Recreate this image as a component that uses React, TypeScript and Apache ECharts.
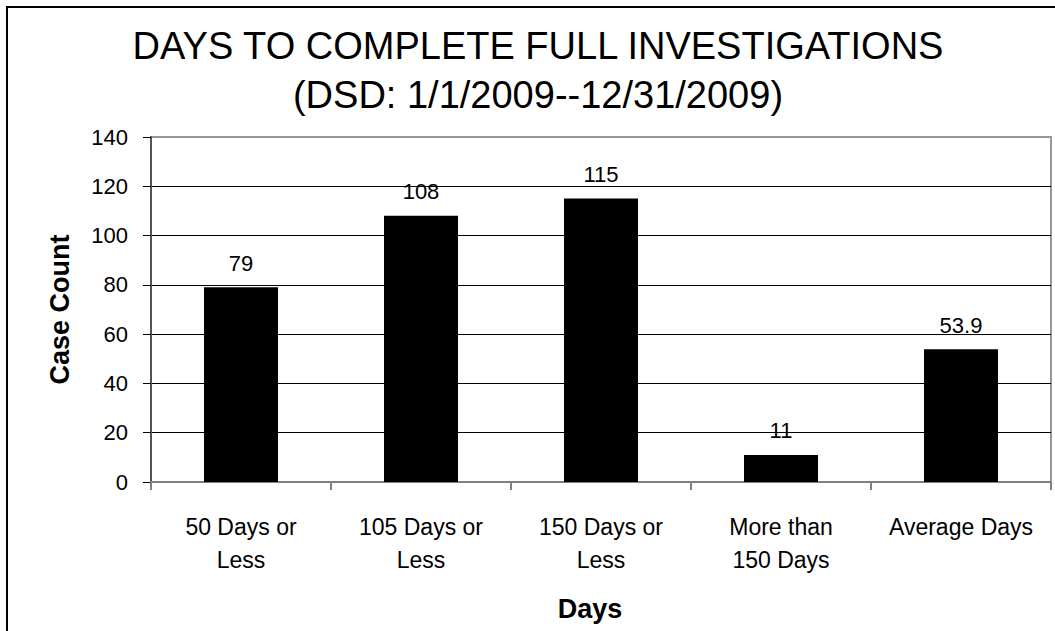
import React, { useEffect, useRef } from "react";
import * as echarts from "echarts";

const titleLines = ["DAYS TO COMPLETE FULL INVESTIGATIONS", "(DSD: 1/1/2009--12/31/2009)"];
const categories = ["50 Days or\nLess", "105 Days or\nLess", "150 Days or\nLess", "More than\n150 Days", "Average Days"];
const caseCounts = [79, 108, 115, 11, 53.9];
const yAxisName = "Case Count";
const xAxisName = "Days";

const FONT = "'Liberation Sans', Arial, sans-serif";

export default function App() {
  const ref = useRef<HTMLDivElement>(null);
  useEffect(() => {
    if (!ref.current) return;
    const chart = echarts.init(ref.current, null, { renderer: "svg" });
    chart.setOption({
      animation: false,
      backgroundColor: "#fff",
      textStyle: { fontFamily: FONT },
      grid: {
        left: 151,
        right: 4,
        top: 137,
        bottom: 149,
        show: true,
        borderColor: "#999",
        borderWidth: 2,
        containLabel: false,
      },
      graphic: [
        {
          type: "rect",
          shape: { x: 7, y: 7, width: 1100, height: 700 },
          style: { fill: "none", stroke: "#000", lineWidth: 2 },
          silent: true,
        },
        {
          type: "text",
          x: 538,
          y: 46,
          style: {
            text: titleLines[0],
            font: `38px ${FONT}`,
            fill: "#000",
            textAlign: "center",
            textVerticalAlign: "middle",
          },
        },
        {
          type: "text",
          x: 538,
          y: 95,
          style: {
            text: titleLines[1],
            font: `38px ${FONT}`,
            fill: "#000",
            textAlign: "center",
            textVerticalAlign: "middle",
          },
        },
      ],
      xAxis: {
        type: "category",
        data: categories,
        name: xAxisName,
        nameLocation: "middle",
        nameGap: 113,
        nameTextStyle: { fontSize: 27, fontWeight: "bold", color: "#000", fontFamily: FONT, padding: [0, 22, 0, 0] },
        axisLine: { show: true, lineStyle: { color: "#808080", width: 2 } },
        axisTick: { show: true, length: 8, lineStyle: { color: "#808080", width: 2 } },
        axisLabel: { fontSize: 23, color: "#000", lineHeight: 33, margin: 28, fontFamily: FONT, interval: 0 },
        splitLine: { show: false },
      },
      yAxis: {
        type: "value",
        min: 0,
        max: 140,
        interval: 20,
        name: yAxisName,
        nameLocation: "middle",
        nameGap: 78,
        nameRotate: 90,
        nameTextStyle: { fontSize: 27, fontWeight: "bold", color: "#000", fontFamily: FONT },
        axisLine: { show: true, lineStyle: { color: "#555", width: 2 } },
        axisTick: { show: true, length: 8, lineStyle: { color: "#000", width: 1 } },
        axisLabel: { fontSize: 22, color: "#000", margin: 23, fontFamily: FONT, padding: [8, 0, 0, 0] },
        splitLine: {
          show: true,
          lineStyle: { color: ["#000", "#000", "#000", "#000", "#000", "#000", "#000", "#999"], width: 1 },
        },
      },
      series: [
        {
          type: "bar",
          data: caseCounts,
          barWidth: 74,
          itemStyle: { color: "#000" },
          label: {
            show: true,
            position: "top",
            distance: 13,
            fontSize: 22,
            color: "#000",
            fontFamily: FONT,
          },
        },
      ],
    });
    return () => chart.dispose();
  }, []);
  return (
    <div
      ref={ref}
      style={{ position: "fixed", left: 0, top: 0, width: 1055, height: 631, background: "#fff" }}
    />
  );
}
